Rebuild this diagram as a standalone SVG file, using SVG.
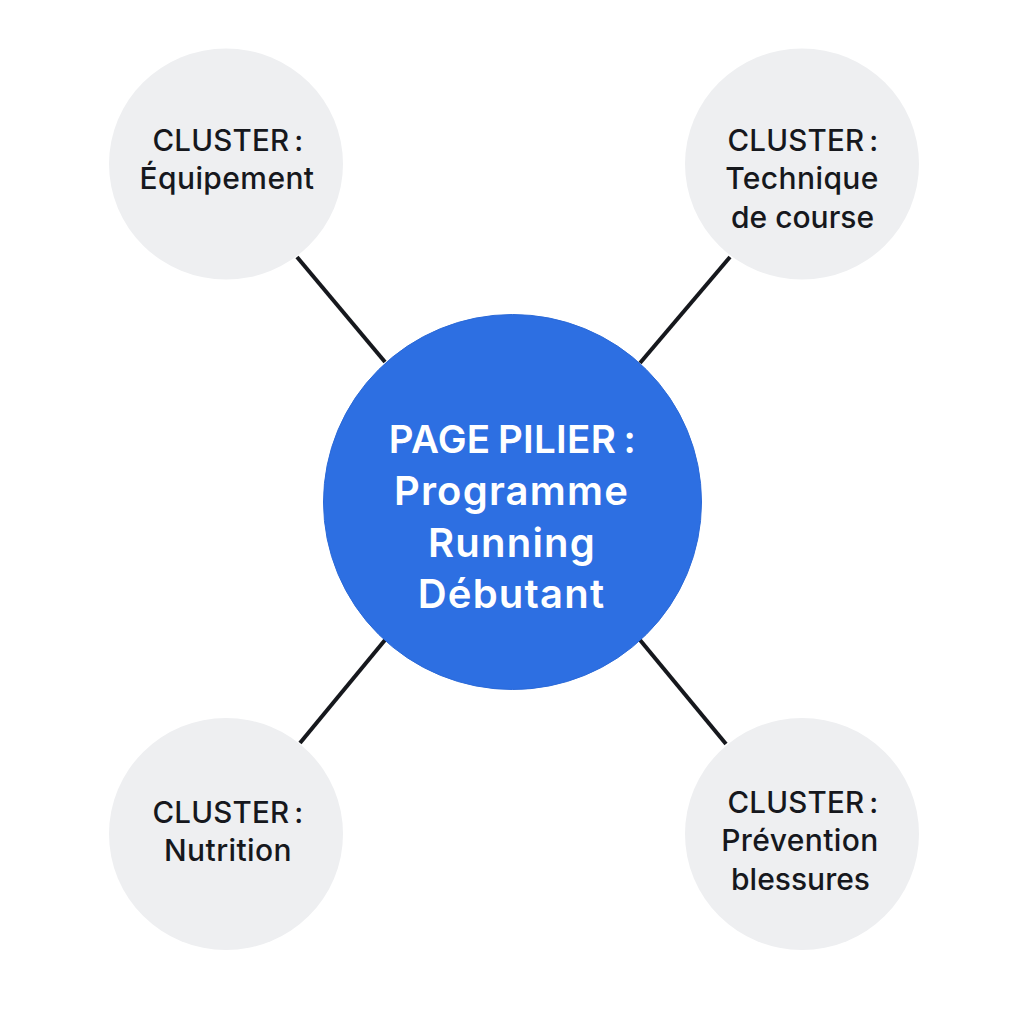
<svg xmlns="http://www.w3.org/2000/svg" width="1024" height="1024" viewBox="0 0 1024 1024">
<style>
.c{fill:#eeeff1}
.t{font-family:Inter,"Liberation Sans",sans-serif;font-size:30px;font-weight:500;fill:#16181d;text-anchor:middle;letter-spacing:.4px}
.n{letter-spacing:0}
.h{font-size:29.500px;letter-spacing:.2px;word-spacing:-3px}
.p{font-family:Inter,"Liberation Sans",sans-serif;font-size:40px;font-weight:600;fill:#fff;text-anchor:middle;letter-spacing:1.200px}
.ph{font-size:38.500px;letter-spacing:.3px;word-spacing:-2.500px}
.l{stroke:#16181d;stroke-width:4;fill:none;stroke-linecap:butt}
</style>
<rect width="1024" height="1024" fill="#fff"/>
<g id="connectors">
<line class="l" x1="297" y1="257" x2="385" y2="362"/>
<line class="l" x1="730" y1="257" x2="640" y2="363"/>
<line class="l" x1="385" y1="640" x2="300" y2="743"/>
<line class="l" x1="640" y1="640" x2="726" y2="744"/>
</g>
<g id="pillar">
<ellipse cx="512.500" cy="502" rx="189" ry="187.500" fill="#2d6fe2" stroke="#2a69d8" stroke-width="1"/>
<text class="p ph" x="512.500" y="453">PAGE PILIER :</text>
<text class="p" x="511.500" y="505">Programme</text>
<text class="p" x="512" y="557">Running</text>
<text class="p" x="511.500" y="608">Débutant</text>
</g>
<g id="cluster-equipement">
<ellipse class="c" cx="226" cy="164" rx="117" ry="115.500"/>
<text class="t h" x="228" y="151">CLUSTER :</text>
<text class="t" x="227" y="189">Équipement</text>
</g>
<g id="cluster-technique">
<ellipse class="c" cx="802" cy="164" rx="117" ry="115.500"/>
<text class="t h" x="803" y="151">CLUSTER :</text>
<text class="t" x="802" y="189">Technique</text>
<text class="t n" x="802.500" y="228">de course</text>
</g>
<g id="cluster-nutrition">
<ellipse class="c" cx="226" cy="834" rx="117" ry="116"/>
<text class="t h" x="228" y="823">CLUSTER :</text>
<text class="t" x="228" y="861">Nutrition</text>
</g>
<g id="cluster-prevention">
<ellipse class="c" cx="802" cy="834" rx="117" ry="116"/>
<text class="t h" x="803" y="813">CLUSTER :</text>
<text class="t" x="800" y="851">Prévention</text>
<text class="t n" x="800.500" y="890">blessures</text>
</g>
</svg>
